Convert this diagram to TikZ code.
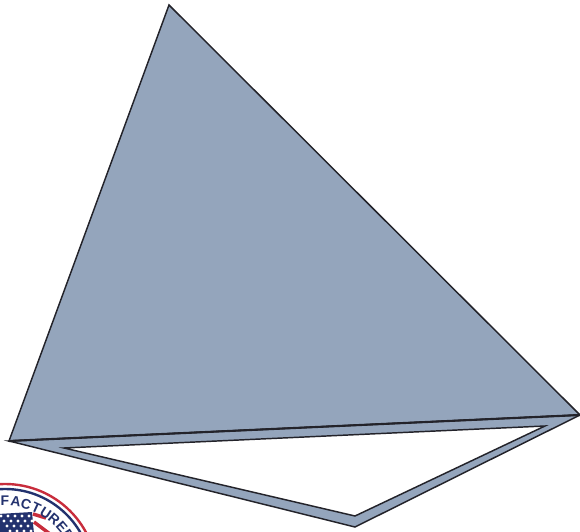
\documentclass[tikz,border=0pt]{standalone}
\usepackage{fontspec}
\setmainfont{Liberation Sans}
\usepackage{tikz}
\definecolor{sailblue}{RGB}{148,165,188}
\definecolor{sailline}{RGB}{35,35,42}
\definecolor{badgered}{RGB}{200,45,60}
\definecolor{badgenavy}{RGB}{35,50,110}

\begin{document}
\begin{tikzpicture}[
  x=0.0264cm,y=-0.0264cm,
  sail/.style={draw=sailline,fill=sailblue,line width=1.1pt},
  ring/.style={draw=#1,line width=1.8pt,fill=none},
  stamp/.style={font=\fontsize{10.5pt}{10.5pt}\selectfont\bfseries,text=badgenavy,inner sep=0pt}
]
\useasboundingbox (0,0) rectangle (580,532);
\def\cx{5}
\def\cy{576}

% Upper sail
\draw[sail] (169,5) -- (580,415) -- (9,441) -- cycle;

% Lower sail with opening
\draw[sail] (9,441) -- (580,415) -- (355,527) -- cycle;
\draw[fill=white,draw=sailline,line width=1.1pt] (64,448) -- (545,426) -- (355,516) -- cycle;
\draw[sailline,line width=1.6pt] (9,441) -- (580,415);

% Badge, cut off by the page edge
\begin{scope}
  \clip (0,0) rectangle (580,532);
  \draw[ring=badgered] (\cx,\cy) circle [radius=92];
  \draw[ring=badgenavy] (\cx,\cy) circle [radius=87];
  % flag
  \fill[badgenavy] (-2,514) -- (32,512) -- (34,534) -- (-2,534) -- cycle;
  \foreach \i in {0,...,4}{
    \foreach \j in {0,...,3}{
      \fill[white] ({1+\i*7+\j*3},{516+\j*5}) circle [radius=1.6];
    }
  }
  \draw[badgered,line width=2.6pt] (33,514) -- (46,518);
  \draw[badgered,line width=2.6pt] (34,522) -- (50,534);
  % lettering
  \foreach \ch [count=\i from 0] in {F,A,C,T,U,R,E,D}{
    \node[stamp,rotate={-\i*8.2}] (L\i) at ({\cx+75*sin(\i*8.2)},{\cy-75*cos(\i*8.2)}) {\ch};
  }
\end{scope}
\end{tikzpicture}
\end{document}
